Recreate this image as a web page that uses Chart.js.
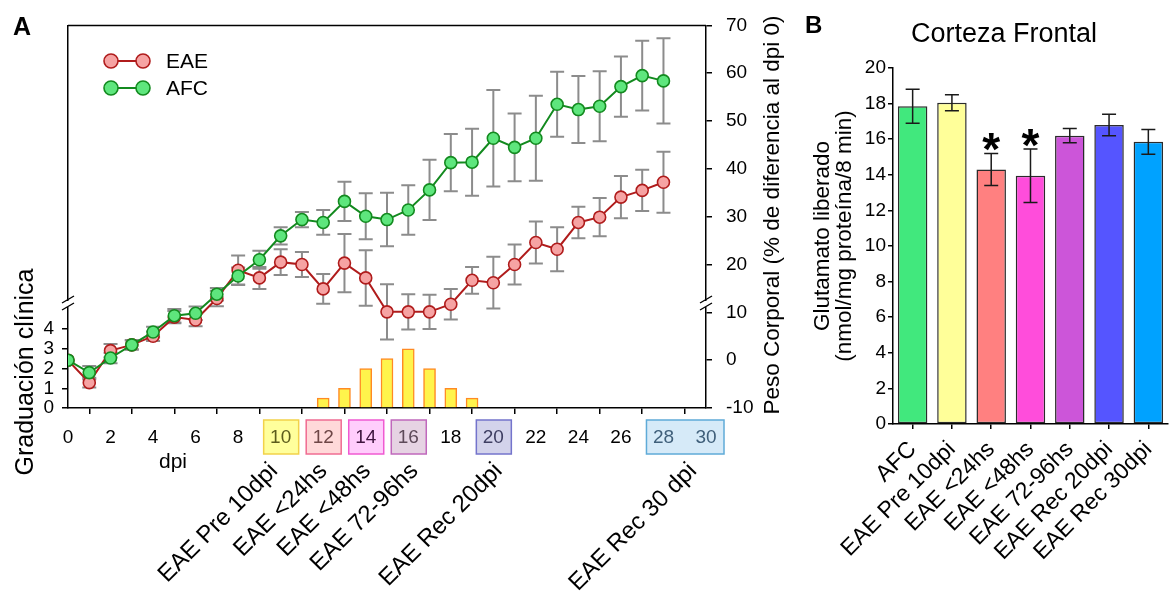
<!DOCTYPE html>
<html>
<head>
<meta charset="utf-8">
<script src="https://cdn.jsdelivr.net/npm/chart.js@4.4.1/dist/chart.umd.min.js"></script>
<style>
html, body { margin: 0; padding: 0; background: #fff; overflow: hidden; width: 1171px; height: 592px; }
#wrapA { position: absolute; left: 0; top: 0; }
#wrapB { position: absolute; left: 790px; top: 0; }
</style>
</head>
<body>
<div id="wrapA"><canvas id="chartA" width="800" height="592"></canvas></div>
<div id="wrapB"><canvas id="chartB" width="385" height="592"></canvas></div>
<script>
// ---- panel A: peso corporal (% vs dpi 0) and clinical score ----
let dpi = [0, 1, 2, 3, 4, 5, 6, 7, 8, 9, 10, 11, 12, 13, 14, 15, 16, 17, 18, 19, 20, 21, 22, 23, 24, 25, 26, 27, 28];
let eae_peso = [0, -4.7, 2.0, 3.2, 5.0, 9.0, 8.4, 12.9, 18.8, 17.2, 20.5, 20.0, 14.9, 20.3, 17.2, 10.1, 10.1, 10.1, 11.7, 16.7, 16.2, 20.0, 24.6, 23.2, 28.8, 29.9, 34.1, 35.5, 37.2];
let eae_err = [0, 1.0, 1.4, 0.9, 1.0, 1.3, 1.3, 1.6, 3.1, 2.3, 2.7, 2.6, 3.1, 6.1, 5.8, 5.8, 3.7, 3.6, 3.2, 2.8, 5.4, 4.2, 4.4, 4.6, 3.3, 4.0, 4.4, 4.3, 6.4];
let afc_peso = [0, -2.6, 0.45, 3.2, 5.9, 9.3, 9.8, 13.8, 17.6, 21.0, 26.0, 29.4, 28.8, 33.2, 30.1, 29.4, 31.4, 35.6, 41.3, 41.4, 46.4, 44.5, 46.4, 53.5, 52.4, 53.1, 57.2, 59.5, 58.4];
let afc_err = [0, 1.4, 1.1, 1.0, 1.1, 1.4, 1.4, 1.3, 1.8, 1.9, 1.8, 1.6, 2.6, 4.1, 4.8, 5.6, 5.2, 6.3, 6.0, 7.0, 10.1, 7.1, 8.9, 6.8, 7.0, 7.3, 6.3, 7.3, 8.9];
let score_dpi = [12, 13, 14, 15, 16, 17, 18, 19];
let score_val = [0.5, 1, 2, 2.5, 3, 2, 1, 0.5];

// sampling days marked on the dpi axis
let phase_names = ['EAE Pre 10dpi', 'EAE <24hs', 'EAE <48hs', 'EAE 72-96hs', 'EAE Rec 20dpi', 'EAE Rec 30 dpi'];
let phase_from = [10, 12, 14, 16, 20, 28];
let phase_to = [10, 12, 14, 16, 20, 30];

// ---- panel B: glutamato liberado, corteza frontal ----
let groups = ['AFC', 'EAE Pre 10dpi', 'EAE <24hs', 'EAE <48hs', 'EAE 72-96hs', 'EAE Rec 20dpi', 'EAE Rec 30dpi'];
let glu = [17.85, 18.05, 14.3, 13.95, 16.2, 16.8, 15.85];
let glu_err = [0.95, 0.45, 0.9, 1.5, 0.4, 0.6, 0.7];
let glu_sig = [false, false, true, true, false, false, false];

// styling
const box_fill = ['#ffff9c', '#ffd9d9', '#ffcdfc', '#e6d3e3', '#d3d3eb', '#d6eaf8'];
const box_edge = ['#f2d24a', '#f06c92', '#f05ad2', '#c068bc', '#7474cc', '#5fabd8'];
const box_text = ['#5c5c1c', '#6e4646', '#3e143e', '#5e4a5a', '#3e3e62', '#3f5f7a'];
const phase_nudge = [-2, 5, 6, 11, 10, 13]; // px, hand placed in the original
const bar_colors = ['#41e87d', '#ffff99', '#ff8080', '#ff4ddb', '#cc55d9', '#5555ff', '#00a2ff'];

const FONT = "'Liberation Sans', Arial, sans-serif";
Chart.defaults.font.family = FONT;
Chart.defaults.color = '#000';

function tickColour(v) {
    for (let i = 0; i < phase_from.length; i++) {
        if (v >= phase_from[i] && v <= phase_to[i]) return box_text[i];
    }
    return '#000';
}

function axisBreak(ctx, x, y) {
    ctx.save();
    ctx.fillStyle = '#fff';
    ctx.fillRect(x - 3, y - 3, 6, 6);
    ctx.strokeStyle = '#000';
    ctx.lineWidth = 1.4;
    ctx.beginPath();
    ctx.moveTo(x - 6, y - 1); ctx.lineTo(x + 6, y - 8);
    ctx.moveTo(x - 6, y + 6); ctx.lineTo(x + 6, y - 1);
    ctx.stroke();
    ctx.restore();
}

const errBarsA = {
    id: 'errBarsA',
    beforeDatasetsDraw(chart) {
        const ctx = chart.ctx, x = chart.scales.x, y = chart.scales.yR;
        ctx.save();
        ctx.strokeStyle = '#8c8c8c';
        ctx.lineWidth = 2;
        [[eae_peso, eae_err], [afc_peso, afc_err]].forEach(([vals, errs]) => {
            vals.forEach((v, i) => {
                if (!errs[i]) return;
                let px = x.getPixelForValue(dpi[i]);
                let top = y.getPixelForValue(v + errs[i]);
                let bot = y.getPixelForValue(v - errs[i]);
                ctx.beginPath();
                ctx.moveTo(px, top); ctx.lineTo(px, bot);
                ctx.moveTo(px - 7, top); ctx.lineTo(px + 7, top);
                ctx.moveTo(px - 7, bot); ctx.lineTo(px + 7, bot);
                ctx.stroke();
            });
        });
        ctx.restore();
    }
};

const decorA = {
    id: 'decorA',
    beforeDraw(chart) {
        // coloured boxes behind the sampled days
        const ctx = chart.ctx, x = chart.scales.x, area = chart.chartArea;
        ctx.save();
        ctx.lineWidth = 1.5;
        for (let i = 0; i < phase_from.length; i++) {
            let x0 = x.getPixelForValue(phase_from[i]) - 17;
            let x1 = x.getPixelForValue(phase_to[i]) + 18;
            ctx.fillStyle = box_fill[i];
            ctx.strokeStyle = box_edge[i];
            ctx.fillRect(x0, area.bottom + 12, x1 - x0, 34);
            ctx.strokeRect(x0, area.bottom + 12, x1 - x0, 34);
        }
        ctx.restore();
    },
    afterDraw(chart) {
        const ctx = chart.ctx, x = chart.scales.x, area = chart.chartArea;
        ctx.save();
        // top frame line
        ctx.strokeStyle = '#000';
        ctx.lineWidth = 1.5;
        ctx.beginPath();
        ctx.moveTo(area.left, area.top); ctx.lineTo(area.right, area.top);
        ctx.stroke();
        axisBreak(ctx, area.left, 304);
        axisBreak(ctx, area.right, 304);

        ctx.fillStyle = '#000';
        ctx.font = 'bold 25px ' + FONT;
        ctx.textAlign = 'left';
        ctx.textBaseline = 'alphabetic';
        ctx.fillText('A', 13, 35);

        // legend
        let leg = [['EAE', '#b01c1c', '#f6a3a3', 61], ['AFC', '#138a1f', '#5ee67d', 88]];
        leg.forEach(([name, line, fill, ly]) => {
            ctx.strokeStyle = line;
            ctx.lineWidth = 2;
            ctx.beginPath();
            ctx.moveTo(111, ly); ctx.lineTo(143, ly);
            ctx.stroke();
            [111, 143].forEach(cx => {
                ctx.beginPath();
                ctx.arc(cx, ly, 7, 0, Math.PI * 2);
                ctx.fillStyle = fill;
                ctx.fill();
                ctx.lineWidth = 1.6;
                ctx.stroke();
            });
            ctx.fillStyle = '#000';
            ctx.font = '21px ' + FONT;
            ctx.fillText(name, 166, ly + 7);
        });

        ctx.font = '21px ' + FONT;
        ctx.fillText('dpi', 159, 468);

        // phase names under the axis
        ctx.font = '24px ' + FONT;
        ctx.textAlign = 'right';
        for (let i = 0; i < phase_names.length; i++) {
            let d = (phase_from[i] + phase_to[i]) / 2;
            ctx.save();
            ctx.translate(x.getPixelForValue(d) + phase_nudge[i], 472);
            ctx.rotate(-Math.PI / 4);
            ctx.fillText(phase_names[i], 0, 0);
            ctx.restore();
        }

        // axis titles
        ctx.textAlign = 'center';
        ctx.save();
        ctx.font = '25px ' + FONT;
        ctx.translate(33, 372);
        ctx.rotate(-Math.PI / 2);
        ctx.fillText('Graduación clínica', 0, 0);
        ctx.restore();
        ctx.save();
        ctx.font = '22.5px ' + FONT;
        ctx.translate(779, 215);
        ctx.rotate(-Math.PI / 2);
        ctx.fillText('Peso Corporal (% de diferencia al dpi 0)', 0, 0);
        ctx.restore();
        ctx.restore();
    }
};

const decorB = {
    id: 'decorB',
    afterDatasetsDraw(chart) {
        const ctx = chart.ctx, x = chart.scales.x, y = chart.scales.y;
        ctx.save();
        ctx.strokeStyle = '#1a1a1a';
        ctx.lineWidth = 1.5;
        glu.forEach((v, i) => {
            let px = x.getPixelForValue(i);
            let top = y.getPixelForValue(v + glu_err[i]);
            let bot = y.getPixelForValue(v - glu_err[i]);
            ctx.beginPath();
            ctx.moveTo(px, top); ctx.lineTo(px, bot);
            ctx.moveTo(px - 7, top); ctx.lineTo(px + 7, top);
            ctx.moveTo(px - 7, bot); ctx.lineTo(px + 7, bot);
            ctx.stroke();
            if (glu_sig[i]) {
                ctx.fillStyle = '#000';
                ctx.font = 'bold 46px ' + FONT;
                ctx.textAlign = 'center';
                ctx.fillText('*', px, top + 12);
            }
        });
        ctx.restore();
    },
    afterDraw(chart) {
        const ctx = chart.ctx;
        ctx.save();
        ctx.fillStyle = '#000';
        ctx.font = 'bold 24px ' + FONT;
        ctx.fillText('B', 15, 33);
        ctx.font = '27px ' + FONT;
        ctx.textAlign = 'center';
        ctx.fillText('Corteza Frontal', 214, 42);
        ctx.font = '22.5px ' + FONT;
        ctx.save();
        ctx.translate(39, 236);
        ctx.rotate(-Math.PI / 2);
        ctx.fillText('Glutamato liberado', 0, 0);
        ctx.restore();
        ctx.save();
        ctx.translate(61, 236);
        ctx.rotate(-Math.PI / 2);
        ctx.fillText('(nmol/mg proteína/8 min)', 0, 0);
        ctx.restore();
        ctx.restore();
    }
};

const axisGrid = { drawOnChartArea: false, tickLength: 6, color: '#000', lineWidth: 1.5 };
const axisBorder = { color: '#000', width: 1.5 };

new Chart(document.getElementById('chartA'), {
    type: 'line',
    data: {
        datasets: [
            {
                label: 'AFC',
                data: dpi.map((d, i) => ({ x: d, y: afc_peso[i] })),
                yAxisID: 'yR',
                borderColor: '#138a1f',
                backgroundColor: '#5ee67d',
                pointBorderColor: '#138a1f',
                pointBackgroundColor: '#5ee67d',
                pointRadius: 6,
                pointBorderWidth: 1.6,
                borderWidth: 2,
                order: 0
            },
            {
                label: 'EAE',
                data: dpi.map((d, i) => ({ x: d, y: eae_peso[i] })),
                yAxisID: 'yR',
                borderColor: '#b01c1c',
                backgroundColor: '#f6a3a3',
                pointBorderColor: '#b01c1c',
                pointBackgroundColor: '#f6a3a3',
                pointRadius: 6,
                pointBorderWidth: 1.6,
                borderWidth: 2,
                order: 1
            },
            {
                type: 'bar',
                label: 'Graduación clínica',
                data: score_dpi.map((d, i) => ({ x: d, y: score_val[i] })),
                yAxisID: 'yL',
                backgroundColor: '#fff44c',
                borderColor: '#ff8a24',
                borderWidth: 1.5,
                barThickness: 12,
                order: 2
            }
        ]
    },
    options: {
        responsive: false,
        animation: false,
        events: [],
        layout: { padding: { top: 20, left: 0, right: 0, bottom: 0 } },
        scales: {
            x: {
                type: 'linear', min: 0, max: 30, offset: false,
                ticks: { stepSize: 2, font: { size: 19 }, padding: 12, color: (c) => tickColour(c.tick ? c.tick.value : -1) },
                grid: axisGrid, border: axisBorder,
                afterFit(s) { s.height = 184; }
            },
            yL: {
                type: 'linear', position: 'left', min: 0, max: 19.4,
                ticks: { stepSize: 1, font: { size: 19 }, padding: 8 },
                afterBuildTicks(s) { s.ticks = s.ticks.filter(t => t.value <= 4); },
                grid: axisGrid, border: axisBorder,
                afterFit(s) { s.width = 68; }
            },
            yR: {
                type: 'linear', position: 'right', min: -10, max: 70,
                ticks: { stepSize: 10, font: { size: 19 }, padding: 14 },
                grid: axisGrid, border: axisBorder,
                afterFit(s) { s.width = 94; }
            }
        },
        plugins: { legend: { display: false }, tooltip: { enabled: false } }
    },
    plugins: [errBarsA, decorA]
});

new Chart(document.getElementById('chartB'), {
    type: 'bar',
    data: {
        labels: groups,
        datasets: [{
            data: glu,
            backgroundColor: bar_colors,
            borderColor: '#2b2b2b',
            borderWidth: 1.5,
            borderSkipped: false,
            categoryPercentage: 1,
            barPercentage: 0.75
        }]
    },
    options: {
        responsive: false,
        animation: false,
        events: [],
        layout: { padding: { top: 68, left: 0, right: 2, bottom: 0 } },
        scales: {
            x: {
                ticks: { font: { size: 23 }, minRotation: 45, maxRotation: 45, autoSkip: false, padding: 7 },
                grid: { offset: false, drawOnChartArea: false, tickLength: 5, color: '#000', lineWidth: 1.5 },
                border: axisBorder,
                afterFit(s) { s.height = 168; }
            },
            y: {
                min: 0, max: 20,
                ticks: { stepSize: 2, font: { size: 19 }, padding: 2 },
                grid: { drawOnChartArea: false, tickLength: 5, color: '#000', lineWidth: 1.5 },
                border: axisBorder,
                afterFit(s) { s.width = 103; }
            }
        },
        plugins: { legend: { display: false }, tooltip: { enabled: false } }
    },
    plugins: [decorB]
});
</script>
</body>
</html>
